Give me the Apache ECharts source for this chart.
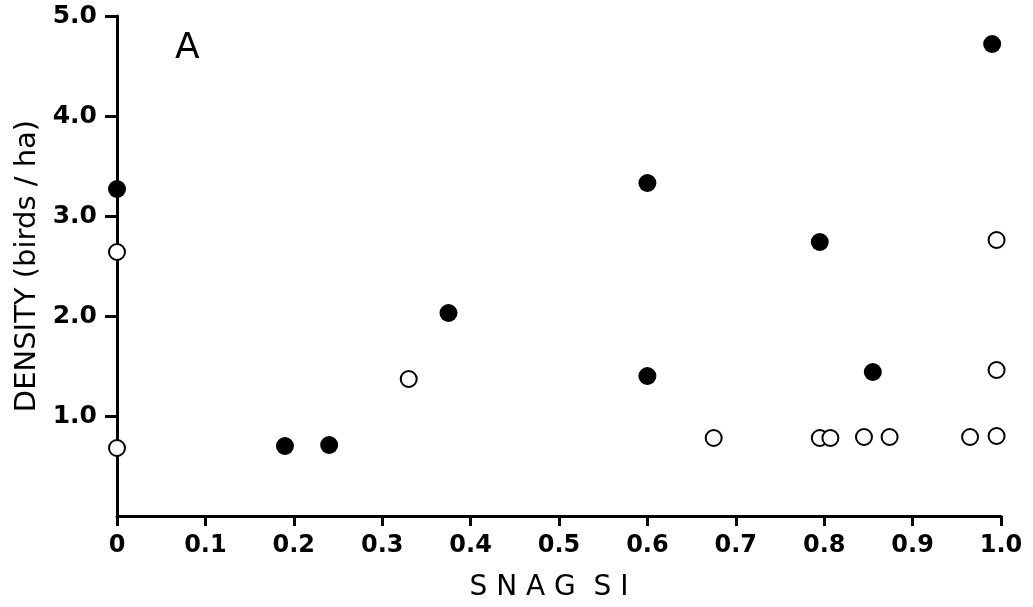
<!DOCTYPE html>
<html>
<head>
<meta charset="utf-8">
<script src="https://cdn.jsdelivr.net/npm/echarts@6/dist/echarts.min.js"></script>
<style>
html,body{margin:0;padding:0;background:#fff}
#main{width:1033px;height:607px}
</style>
</head>
<body>
<div id="main"></div>
<script>
// snag SI (x) vs density birds/ha (y)
var filledX = [0, 0.19, 0.24, 0.375, 0.6, 0.6, 0.795, 0.855, 0.99];
var filledY = [3.27, 0.7, 0.71, 2.03, 1.4, 3.33, 2.74, 1.44, 4.72];
var openX = [0, 0, 0.33, 0.675, 0.795, 0.807, 0.845, 0.874, 0.965, 0.995, 0.995, 0.995];
var openY = [2.64, 0.68, 1.37, 0.78, 0.78, 0.78, 0.79, 0.79, 0.79, 0.8, 1.46, 2.76];
var xTicks = [0, 0.1, 0.2, 0.3, 0.4, 0.5, 0.6, 0.7, 0.8, 0.9, 1.0];
var yTicks = [1, 2, 3, 4, 5];

function pairs(xs, ys){
  var out = [];
  for (var i = 0; i < xs.length; i++) out.push([xs[i], ys[i]]);
  return out;
}

var font = 'DejaVu Sans';
var myChart = echarts.init(document.getElementById('main'));
var option = {
  backgroundColor: '#fff',
  animation: false,
  title: {
    text: 'A', left: 170, top: 26,
    textStyle: {fontFamily: font, fontSize: 36, fontWeight: 'normal', color: '#000'}
  },
  grid: {left: 117, right: 32, top: 16, bottom: 91, outerBoundsMode: 'none', containLabel: false},
  xAxis: {
    type: 'value', min: 0, max: 1, interval: 0.1,
    name: 'S N A G  S I', nameLocation: 'middle', nameGap: 58,
    nameTextStyle: {fontFamily: font, fontSize: 28, color: '#000', padding: [0, 20, 0, 0]},
    axisLine: {lineStyle: {color: '#000', width: 3}},
    axisTick: {show: true, length: 10, lineStyle: {color: '#000', width: 3}},
    splitLine: {show: false},
    axisLabel: {
      fontFamily: font, fontSize: 24, fontWeight: 'bold', color: '#000', margin: 18,
      customValues: xTicks,
      formatter: function(v){ return v === 0 ? '0' : v.toFixed(1); }
    }
  },
  yAxis: {
    type: 'value', min: 0, max: 5, interval: 1,
    name: 'DENSITY (birds / ha)', nameLocation: 'middle', nameGap: 72,
    nameTextStyle: {fontFamily: font, fontSize: 29, color: '#000'},
    axisLine: {lineStyle: {color: '#000', width: 3}},
    axisTick: {show: true, length: 12, lineStyle: {color: '#000', width: 3}, customValues: yTicks},
    splitLine: {show: false},
    axisLabel: {
      fontFamily: font, fontSize: 25, fontWeight: 'bold', color: '#000', margin: 20,
      customValues: yTicks,
      formatter: function(v){ return v.toFixed(1); }
    }
  },
  series: [
    {
      name: 'filled', type: 'scatter', symbol: 'circle', symbolSize: 18,
      itemStyle: {color: '#000', opacity: 1},
      data: pairs(filledX, filledY)
    },
    {
      name: 'open', type: 'scatter', symbol: 'circle', symbolSize: 16,
      itemStyle: {color: '#fff', borderColor: '#000', borderWidth: 2, opacity: 1},
      data: pairs(openX, openY)
    }
  ]
};
myChart.setOption(option);
</script>
</body>
</html>
